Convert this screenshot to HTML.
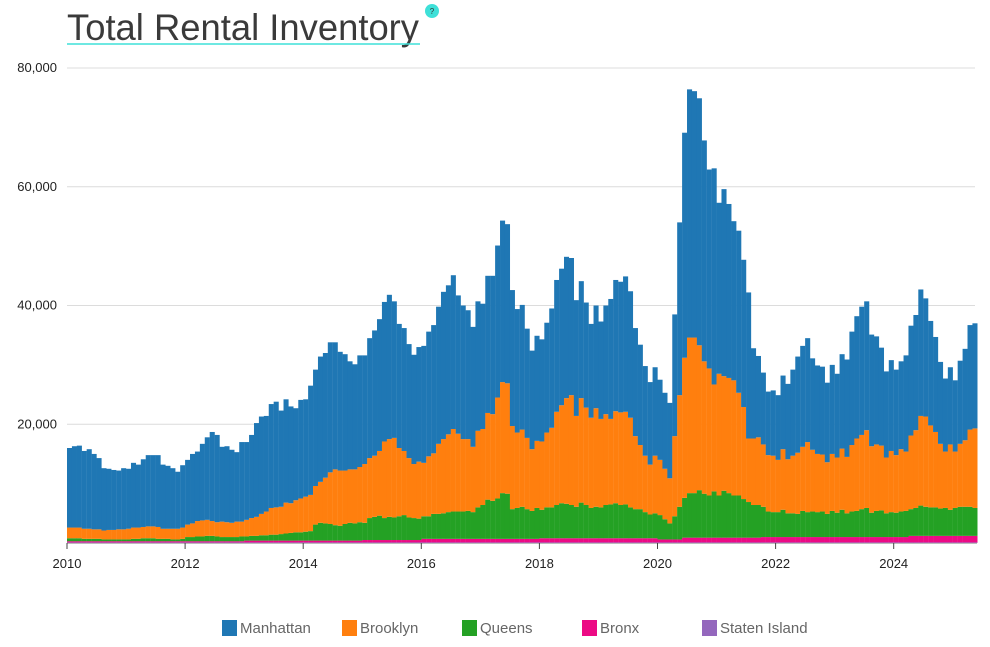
<!DOCTYPE html>
<html><head><meta charset="utf-8"><style>
html,body{margin:0;padding:0;background:#fff;width:990px;height:647px;overflow:hidden;font-family:"Liberation Sans",sans-serif;}
svg{display:block}
</style></head><body>
<svg id="chart" width="990" height="647" xmlns="http://www.w3.org/2000/svg">
<text x="67" y="40" font-family="Liberation Sans, sans-serif" font-size="37" fill="#3a3a3a" textLength="352" lengthAdjust="spacingAndGlyphs">Total Rental Inventory</text>
<line x1="67" y1="44" x2="420" y2="44" stroke="#3ee0d8" stroke-width="1.5"/>
<g><circle cx="432" cy="11" r="7" fill="#3ee0d8"/><text x="432" y="14" font-size="8" text-anchor="middle" fill="#333">?</text></g>
<g id="grid"></g><g id="bars"></g><g id="axes"></g><g id="legend"></g>
</svg>
<script>
const startYear = 2010;
const yTicks = [0, 20000, 40000, 60000, 80000];
const xTickYears = [2010, 2012, 2014, 2016, 2018, 2020, 2022, 2024];
const seriesNames = ["Staten Island", "Bronx", "Queens", "Brooklyn", "Manhattan"];
const legendOrder = ["Manhattan", "Brooklyn", "Queens", "Bronx", "Staten Island"];
// values in thousands, monthly from Jan 2010
const statenIsland = [
0.1,0.1,0.1,0.1,0.1,0.1,0.1,0.1,0.1,0.1,
0.1,0.1,0.1,0.1,0.1,0.1,0.1,0.1,0.1,0.1,
0.1,0.1,0.1,0.1,0.1,0.1,0.1,0.1,0.1,0.1,
0.1,0.1,0.1,0.1,0.1,0.1,0.1,0.1,0.1,0.1,
0.1,0.1,0.1,0.1,0.1,0.1,0.1,0.1,0.1,0.1,
0.1,0.1,0.1,0.1,0.1,0.1,0.1,0.1,0.1,0.1,
0.1,0.1,0.1,0.1,0.1,0.1,0.1,0.1,0.1,0.1,
0.1,0.1,0.1,0.1,0.1,0.1,0.1,0.1,0.1,0.1,
0.1,0.1,0.1,0.1,0.1,0.1,0.1,0.1,0.1,0.1,
0.1,0.1,0.1,0.1,0.1,0.1,0.1,0.1,0.1,0.1,
0.1,0.1,0.1,0.1,0.1,0.1,0.1,0.1,0.1,0.1,
0.1,0.1,0.1,0.1,0.1,0.1,0.1,0.1,0.1,0.1,
0.1,0.1,0.1,0.1,0.1,0.1,0.1,0.1,0.1,0.1,
0.1,0.1,0.1,0.1,0.1,0.1,0.1,0.1,0.1,0.1,
0.1,0.1,0.1,0.1,0.1,0.1,0.1,0.1,0.1,0.1,
0.1,0.1,0.1,0.1,0.1,0.1,0.1,0.1,0.1,0.1,
0.1,0.1,0.1,0.1,0.1,0.1,0.1,0.1,0.1,0.1,
0.1,0.1,0.1,0.1,0.1,0.1,0.1,0.1,0.1,0.1,
0.1,0.1,0.1,0.1,0.1];
const bronx = [0.2,0.2,0.2,0.2,0.2,0.2,0.2,0.2,0.2,0.2,0.2,0.2,0.2,0.2,0.2,0.2,0.2,0.2,0.2,0.2,0.2,0.2,0.2,0.2,0.2,0.2,0.2,0.2,0.2,0.2,0.2,0.2,0.2,0.2,0.2,0.2,
0.3,0.3,0.3,0.3,0.3,0.3,0.3,0.3,0.3,0.3,0.3,0.3,0.3,0.3,0.3,0.3,0.3,0.3,0.3,0.3,0.3,0.3,0.3,0.3,
0.4,0.4,0.4,0.4,0.4,0.4,0.4,0.4,0.4,0.4,0.4,0.4,
0.6,0.6,0.6,0.6,0.6,0.6,0.6,0.6,0.6,0.6,0.6,0.6,0.6,0.6,0.6,0.6,0.6,0.6,0.6,0.6,0.6,0.6,0.6,0.6,
0.7,0.7,0.7,0.7,0.7,0.7,0.7,0.7,0.7,0.7,0.7,0.7,0.7,0.7,0.7,0.7,0.7,0.7,0.7,0.7,0.7,0.7,0.7,0.7,
0.5,0.5,0.5,0.5,0.5,
0.8,0.8,0.8,0.8,0.8,0.8,0.8,0.8,0.8,0.8,0.8,0.8,0.8,0.8,0.8,0.8,
0.9,0.9,0.9,0.9,0.9,0.9,0.9,0.9,0.9,0.9,0.9,0.9,0.9,0.9,0.9,0.9,0.9,0.9,0.9,0.9,0.9,0.9,0.9,0.9,0.9,0.9,0.9,0.9,0.9,0.9,
1.1,1.1,1.1,1.1,1.1,1.1,1.1,1.1,1.1,1.1,1.1,1.1,1.1,1.1];
const queens = [0.5,0.5,0.5,0.4,0.4,0.4,0.4,0.3,0.3,0.3,0.3,0.3,0.3,0.4,0.4,0.5,0.5,0.5,0.4,0.4,0.4,0.3,0.3,0.4,
0.7,0.7,0.8,0.8,0.9,0.9,0.8,0.7,0.7,0.7,0.7,0.8,
0.7,0.8,0.8,0.9,0.9,1.0,1.0,1.1,1.2,1.3,1.4,1.4,
1.5,1.6,2.7,3.0,2.9,2.8,2.6,2.5,2.8,3.0,2.9,3.1,
2.9,3.7,3.9,4.1,3.7,3.9,3.8,4.0,4.2,3.8,3.7,3.6,
3.8,3.8,4.2,4.2,4.3,4.5,4.6,4.6,4.6,4.7,4.5,5.3,5.7,6.6,6.4,6.8,7.7,7.6,5.0,5.2,5.4,5.0,4.7,5.2,
4.8,5.2,5.2,5.6,5.9,5.8,5.6,5.3,6.0,5.6,5.1,5.3,5.2,5.6,5.7,5.9,5.6,5.7,5.2,4.9,4.9,4.4,4.0,4.2,
4.1,3.4,2.7,3.9,5.5,
6.7,7.5,7.5,8.0,7.4,7.1,7.8,7.1,7.9,7.5,7.1,7.1,6.5,6.0,5.5,5.5,
5.1,4.3,4.2,4.2,4.6,4.0,4.0,3.9,4.4,4.2,4.3,4.2,4.3,3.9,4.4,4.1,4.6,4.0,4.3,4.4,4.7,4.9,4.1,4.4,4.5,4.0,4.2,4.1,4.3,4.4,
4.5,4.7,5.1,4.9,4.8,4.8,4.6,4.7,4.4,4.7,4.9,4.9,4.9,4.7];
const brooklyn = [1.8,1.8,1.8,1.7,1.7,1.6,1.6,1.5,1.6,1.6,1.7,1.7,1.8,1.9,1.9,1.9,2.0,2.0,2.0,1.7,1.7,1.8,1.8,1.9,
2.1,2.3,2.6,2.7,2.7,2.5,2.4,2.6,2.5,2.4,2.6,2.5,2.8,3.0,3.2,3.6,4.0,4.5,4.6,4.6,5.2,5.0,5.4,5.7,
5.9,6.1,6.5,6.9,7.7,8.7,9.4,9.3,9.0,9.0,9.1,9.3,9.9,10.1,10.3,10.9,12.9,13.1,13.4,11.5,10.8,10.0,9.1,9.6,9.0,10.1,10.2,11.8,12.5,13.1,13.9,13.1,12.2,12.1,11.0,12.9,12.8,14.6,14.6,17.0,18.7,18.6,14.0,12.7,13.0,12.0,10.4,11.3,
11.5,12.6,13.4,15.7,16.5,17.8,18.5,15.3,17.6,16.4,15.2,16.6,14.9,15.3,14.4,15.5,15.6,15.6,15.1,12.3,10.8,9.5,8.4,9.7,9.3,8.5,7.6,13.5,18.8,23.6,26.2,26.2,24.4,22.3,21.4,18.0,20.5,19.3,19.4,19.4,17.3,15.5,10.7,11.2,11.4,
10.5,9.5,9.5,8.8,10.2,9.1,9.7,10.3,10.8,11.8,10.4,9.8,9.6,8.7,9.6,9.3,10.3,9.5,11.2,12.2,12.5,13.1,11.2,11.2,10.9,9.4,10.3,9.7,10.5,10.0,12.4,13.1,15.1,15.2,13.8,12.7,10.9,9.5,11.0,9.5,10.6,11.2,13.0,13.4];
const manhattan = [13.4,13.7,13.8,13.1,13.4,12.7,12.0,10.5,10.3,10.1,9.9,10.3,10.1,10.9,10.6,11.4,12.0,12.0,12.1,10.8,10.6,10.2,9.6,10.5,
10.9,11.7,11.7,12.9,13.9,15.0,14.7,12.6,12.8,12.3,11.7,13.4,13.1,14.0,15.8,16.4,16.1,17.5,17.8,16.2,17.4,16.3,15.5,16.6,
16.4,18.4,19.6,21.1,21.0,21.9,21.4,20.0,19.6,18.2,17.7,18.8,18.3,20.2,21.1,22.2,23.5,24.3,23.0,20.9,20.7,19.2,18.4,19.3,
19.7,21.0,21.6,23.1,24.8,25.1,25.9,23.3,22.5,21.7,20.2,21.8,21.1,23.1,23.3,25.6,27.2,26.8,22.9,20.8,21.0,18.4,16.6,17.7,
17.2,18.5,20.1,22.2,23.0,23.8,23.1,19.5,19.7,17.7,15.8,17.3,16.4,18.3,20.2,22.1,22.0,22.8,21.3,18.2,16.9,15.1,13.9,14.9,
13.5,12.8,12.7,20.5,29.1,37.9,41.8,41.5,41.6,37.2,33.5,36.4,28.8,31.5,29.3,26.8,27.3,24.8,24.6,15.2,13.7,
12.1,10.7,11.0,10.9,12.4,12.7,14.5,16.2,17.0,17.5,15.4,14.9,14.8,13.4,15.0,14.1,15.9,16.4,19.1,20.6,21.6,21.7,18.8,18.2,16.5,14.5,15.3,14.4,14.8,16.2,
18.5,19.4,21.3,19.9,17.6,16.0,13.8,12.3,13.0,12.0,14.0,15.4,17.6,17.7];
const seriesData = {"Staten Island": statenIsland, "Bronx": bronx, "Queens": queens, "Brooklyn": brooklyn, "Manhattan": manhattan};
const colors = {"Manhattan": "#1f77b4", "Brooklyn": "#ff7f0e", "Queens": "#24a124", "Bronx": "#ec0a84", "Staten Island": "#9467bd"};

const NS = "http://www.w3.org/2000/svg";
const X0 = 67, YEARPX = 59.05, Y0 = 543, YTOP = 68, YMAX = 80000;
function xScale(monthIndex){ return X0 + monthIndex * YEARPX / 12; }
function yScale(v){ return Y0 - (v / YMAX) * (Y0 - YTOP); }
function mk(tag, attrs, parent){ const e = document.createElementNS(NS, tag); for (const k in attrs) e.setAttribute(k, attrs[k]); parent.appendChild(e); return e; }

const grid = document.getElementById("grid");
yTicks.forEach(t => {
  if (t > 0) {
    const l = mk("line", {x1: X0, x2: 975, y1: yScale(t), y2: yScale(t), stroke: "#dcdcdc", "stroke-width": 1}, grid);
    
    
  }
  const tx = mk("text", {x: 57, y: yScale(t) + 4, "text-anchor": "end", "font-size": 13, fill: "#222"}, grid);
  
  
  tx.textContent = t === 0 ? "" : t.toLocaleString("en-US");
});

const bars = document.getElementById("bars");
const n = manhattan.length;
const bw = YEARPX / 12;
for (let i = 0; i < n; i++) {
  let cum = 0;
  seriesNames.forEach(s => {
    const v = (seriesData[s][i] || 0) * 1000;
    const yTop = yScale(cum + v), yBot = yScale(cum);
    const r = mk("rect", {x: xScale(i).toFixed(2), y: yTop.toFixed(2), width: (bw + 0.15).toFixed(2), height: Math.max(0, yBot - yTop).toFixed(2), fill: colors[s]}, bars);
    
    
    cum += v;
  });
}

const axes = document.getElementById("axes");
const ax = mk("line", {x1: X0, x2: 977, y1: Y0 + 0.5, y2: Y0 + 0.5, stroke: "#bbb", "stroke-width": 1}, axes);


xTickYears.forEach(yr => {
  const x = xScale((yr - startYear) * 12);
  const tk = mk("line", {x1: x, x2: x, y1: Y0, y2: Y0 + 6, stroke: "#444", "stroke-width": 1}, axes);
  
  
  const tl = mk("text", {x: x, y: 568, "text-anchor": "middle", "font-size": 13, fill: "#222"}, axes);
  
  
  tl.textContent = yr;
});

const legend = document.getElementById("legend");
legendOrder.forEach((s, k) => {
  const lx = 222 + k * 120;
  const g = mk("g", {}, legend);
  
  
  mk("rect", {x: lx, y: 620, width: 15, height: 16, fill: colors[s]}, g);
  const t = mk("text", {x: lx + 18, y: 633, "font-size": 15, fill: "#666"}, g);
  t.textContent = s;
});
</script>
</body></html>
